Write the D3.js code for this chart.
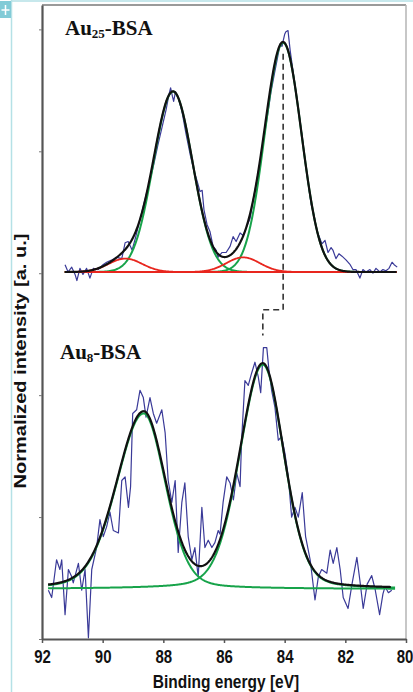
<!DOCTYPE html>
<html>
<head>
<meta charset="utf-8">
<script src="https://cdn.jsdelivr.net/npm/d3@7"></script>
<style>
body{ margin:0; background:#fff; }
svg{ display:block; }
</style>
</head>
<body>
<script>
// x tick labels
var xTicks = [92, 90, 88, 86, 84, 82, 80];
var yTicks = [0, 100, 200, 300, 400, 500];

// panel baselines (a.u.)
var offsetTop = 301;
var offsetBottom = 41;

// Au25-BSA measured spectrum [eV, intensity above baseline]
var au25Data = [
	[91.24,6],[91.14,0],[91.02,4],[90.91,-2],[90.85,-7],[90.75,3],[90.65,-2],[90.53,3],[90.42,-5],
	[90.31,3],[90.15,2],[89.99,6],[89.87,8],[89.69,10],[89.53,12],[89.37,11],[89.26,24],[89.16,25],
	[89.03,18],[88.93,27],[88.77,43],[88.64,56],[88.54,66],[88.44,75],[88.31,89],[88.18,104],[88.04,119],
	[87.91,133],[87.81,146],[87.76,151],[87.70,144],[87.66,140],[87.60,148],[87.52,144],[87.38,131],
	[87.25,113],[87.12,97],[86.99,83],[86.89,75],[86.79,66],[86.72,67],[86.66,51],[86.56,39],[86.46,33],
	[86.36,21],[86.26,18],[86.20,12],[86.07,16],[85.93,16],[85.80,21],[85.70,29],[85.60,25],[85.47,32],
	[85.37,30],[85.27,36],[85.14,44],[85.04,59],[84.94,72],[84.85,85],[84.75,98],[84.65,115],[84.55,131],
	[84.45,148],[84.35,161],[84.25,174],[84.15,187],[84.09,185],[84.00,195],[83.96,197],[83.89,198],
	[83.82,182],[83.72,164],[83.63,148],[83.53,130],[83.43,112],[83.33,92],[83.23,74],[83.13,56],
	[83.03,46],[82.93,33],[82.83,27],[82.77,23],[82.67,26],[82.57,16],[82.47,20],[82.41,18],[82.31,11],
	[82.21,15],[82.11,13],[81.98,10],[81.84,6],[81.75,2],[81.65,2],[81.52,-5],[81.42,2],[81.32,0],
	[81.19,2],[81.09,-1],[80.99,3],[80.86,0],[80.76,2],[80.66,1],[80.56,3],[80.46,8],[80.39,6],[80.29,4]
];

// Au8-BSA measured spectrum [eV, intensity above baseline]
var au8Data = [
	[91.79,-1],[91.68,-7],[91.52,24],[91.41,16],[91.35,24],[91.24,-21],[91.13,16],[91.02,10],[90.97,5],
	[90.80,21],[90.69,-1],[90.58,16],[90.47,-40],[90.36,16],[90.20,34],[90.09,57],[89.98,43],[89.87,51],
	[89.76,63],[89.65,48],[89.48,46],[89.37,89],[89.26,92],[89.15,67],[89.08,84],[89.01,144],[88.88,147],
	[88.77,163],[88.66,157],[88.57,141],[88.44,157],[88.33,144],[88.22,136],[88.05,147],[87.94,128],
	[87.84,89],[87.72,71],[87.61,89],[87.51,30],[87.39,71],[87.29,87],[87.18,43],[87.06,24],[86.96,34],
	[86.85,10],[86.73,67],[86.63,34],[86.52,40],[86.40,34],[86.30,38],[86.19,48],[86.13,45],[86.03,71],
	[85.91,92],[85.80,87],[85.69,73],[85.58,95],[85.47,84],[85.42,122],[85.31,171],[85.20,167],[85.09,177],
	[84.98,186],[84.87,174],[84.79,161],[84.70,198],[84.59,198],[84.52,180],[84.43,163],[84.32,149],
	[84.21,122],[84.10,125],[83.99,111],[83.88,92],[83.77,59],[83.66,67],[83.55,59],[83.42,79],[83.31,43],
	[83.16,24],[83.00,-9],[82.89,10],[82.78,16],[82.61,13],[82.50,32],[82.40,21],[82.28,34],[82.17,16],
	[82.07,-7],[81.91,-16],[81.78,4],[81.62,26],[81.52,7],[81.41,-16],[81.28,4],[81.13,11],[81.02,0],
	[80.87,-21],[80.76,-4],[80.69,2],[80.58,-3],[80.47,-1]
];

// fitted components [centre eV, amplitude, half width high-eV side, half width low-eV side, lorentz fraction]
var au25Main = [[87.68, 148, 0.76, 0.76, 0], [84.05, 188, 0.71, 0.71, 0]];
var au25Minor = [[89.25, 11, 0.65, 0.65, 0], [85.37, 12, 0.65, 0.65, 0]];
var au8Main = [[88.65, 144, 1.05, 0.85, 0.2], [84.72, 184, 0.9, 0.82, 0.2]];

var au25Range = [91.25, 80.3];
var au8Range = [91.8, 80.35];

// shift marker between the 4f7/2 peaks
var shiftLine = [[84.05, 480], [84.05, 270], [84.72, 270], [84.72, 249]];

var W = 413, H = 692;
var svg = d3.select('body').append('svg').attr('width', W).attr('height', H);

var x = d3.scaleLinear().domain([92, 80]).range([42, 406]);
var y = d3.scaleLinear().domain([0, 520]).range([639, 5]);

// page decoration
svg.append('line').attr('x1', 11.5).attr('x2', 11.5).attr('y1', 0).attr('y2', H)
	.attr('stroke', '#b5e1e6').attr('stroke-width', 1.5);
svg.append('line').attr('x1', 11.5).attr('x2', W).attr('y1', 1).attr('y2', 1)
	.attr('stroke', '#b5e1e6').attr('stroke-width', 1.5);
svg.append('rect').attr('x', 0).attr('y', 1).attr('width', 11).attr('height', 17).attr('fill', '#82cbd7');
svg.append('path').attr('d', 'M5.5,5V15M1.5,10H9.5').attr('stroke', '#fff').attr('stroke-width', 1.5);

function peak(p, e){
	var hw = e > p[0] ? p[2] : p[3];
	var t = (e - p[0]) / hw;
	return p[1] * ((1 - p[4]) * Math.exp(-Math.LN2 * t * t) + p[4] / (1 + t * t));
}

function curve(peaks, range, off){
	var pts = [];
	for(let e of d3.range(range[0], range[1] - 0.001, -0.02)){
		var v = 0;
		for(let p of peaks){ v += peak(p, e); }
		pts.push([e, v + off]);
	}
	return pts;
}

var line = d3.line()
	.x(function(d){ return x(d[0]); })
	.y(function(d){ return y(d[1]); });

function draw(pts, color, width, dash){
	var p = svg.append('path')
		.datum(pts)
		.attr('d', line)
		.attr('fill', 'none')
		.attr('stroke', color)
		.attr('stroke-width', width)
		.attr('stroke-linejoin', 'round');
	if(dash) p.attr('stroke-dasharray', dash);
	return p;
}

// measured data
draw(au25Data.map(function(d){ return [d[0], d[1] + offsetTop]; }), '#3a3a98', 1.2);
draw(au8Data.map(function(d){ return [d[0], d[1] + offsetBottom]; }), '#3a3a98', 1.2);

// components
for(let p of au25Main){ draw(curve([p], au25Range, offsetTop), '#17a34a', 2); }
for(let p of au25Minor){ draw(curve([p], au25Range, offsetTop), '#e8261e', 1.8); }
for(let p of au8Main){ draw(curve([p], au8Range, offsetBottom), '#17a34a', 2); }

// envelopes
draw(curve(au25Main.concat(au25Minor), au25Range, offsetTop), '#111', 2.2);
draw(curve(au8Main, [91.8, 80.5], offsetBottom), '#111', 2.2);

draw(shiftLine, '#333', 1.6, '6,4');

// frame
svg.append('line').attr('x1', 42).attr('x2', 406).attr('y1', 5).attr('y2', 5)
	.attr('stroke', '#9a9a9a').attr('stroke-width', 2);
svg.append('line').attr('x1', 406).attr('x2', 406).attr('y1', 5).attr('y2', 639)
	.attr('stroke', '#b4b4b4').attr('stroke-width', 1.5);

var yAxis = svg.append('g')
	.attr('transform', 'translate(42,0)')
	.call(d3.axisLeft(y).tickValues(yTicks).tickSize(3).tickSizeOuter(0).tickFormat(''));
yAxis.select('.domain').attr('stroke', '#555').attr('stroke-width', 2.2);
yAxis.selectAll('.tick line').attr('stroke', '#777');

var xAxis = svg.append('g')
	.attr('transform', 'translate(0,639)')
	.call(d3.axisBottom(x).tickValues(xTicks).tickSize(4).tickSizeOuter(0).tickFormat(d3.format('d')));
xAxis.select('.domain').attr('stroke', '#555').attr('stroke-width', 2);
xAxis.selectAll('.tick line').attr('stroke', '#555').attr('stroke-width', 1.5);
xAxis.selectAll('.tick text')
	.attr('y', 0).attr('dy', 0)
	.attr('transform', function(d){ return 'translate(' + (d == 80 ? -1.5 : 0) + ',24) scale(1,1.2)'; })
	.attr('fill', '#111')
	.style('font-family', 'Liberation Sans, Arial, sans-serif')
	.style('font-weight', 'bold')
	.style('font-size', '15px');

svg.append('text')
	.attr('transform', 'translate(226,688) scale(1,1.2)')
	.attr('text-anchor', 'middle')
	.style('font-family', 'Liberation Sans, Arial, sans-serif')
	.style('font-weight', 'bold')
	.style('font-size', '15.5px')
	.attr('fill', '#111')
	.text('Binding energy [eV]');

svg.append('text')
	.attr('transform', 'translate(26,361) rotate(-90)')
	.attr('text-anchor', 'middle')
	.attr('textLength', 255)
	.attr('lengthAdjust', 'spacingAndGlyphs')
	.style('font-family', 'Liberation Sans, Arial, sans-serif')
	.style('font-weight', 'bold')
	.style('font-size', '16px')
	.attr('fill', '#111')
	.text('Normalized intensity [a. u.]');

function label(px, py, sub){
	var t = svg.append('text')
		.attr('x', px).attr('y', py)
		.style('font-family', 'Liberation Serif, Times New Roman, serif')
		.style('font-weight', 'bold')
		.style('font-size', '21px')
		.attr('fill', '#111');
	t.append('tspan').text('Au');
	t.append('tspan').attr('dy', 3).style('font-size', '13px').text(sub);
	t.append('tspan').attr('dy', -3).text('-BSA');
}
label(65, 35, '25');
label(60, 359, '8');
</script>
</body>
</html>
